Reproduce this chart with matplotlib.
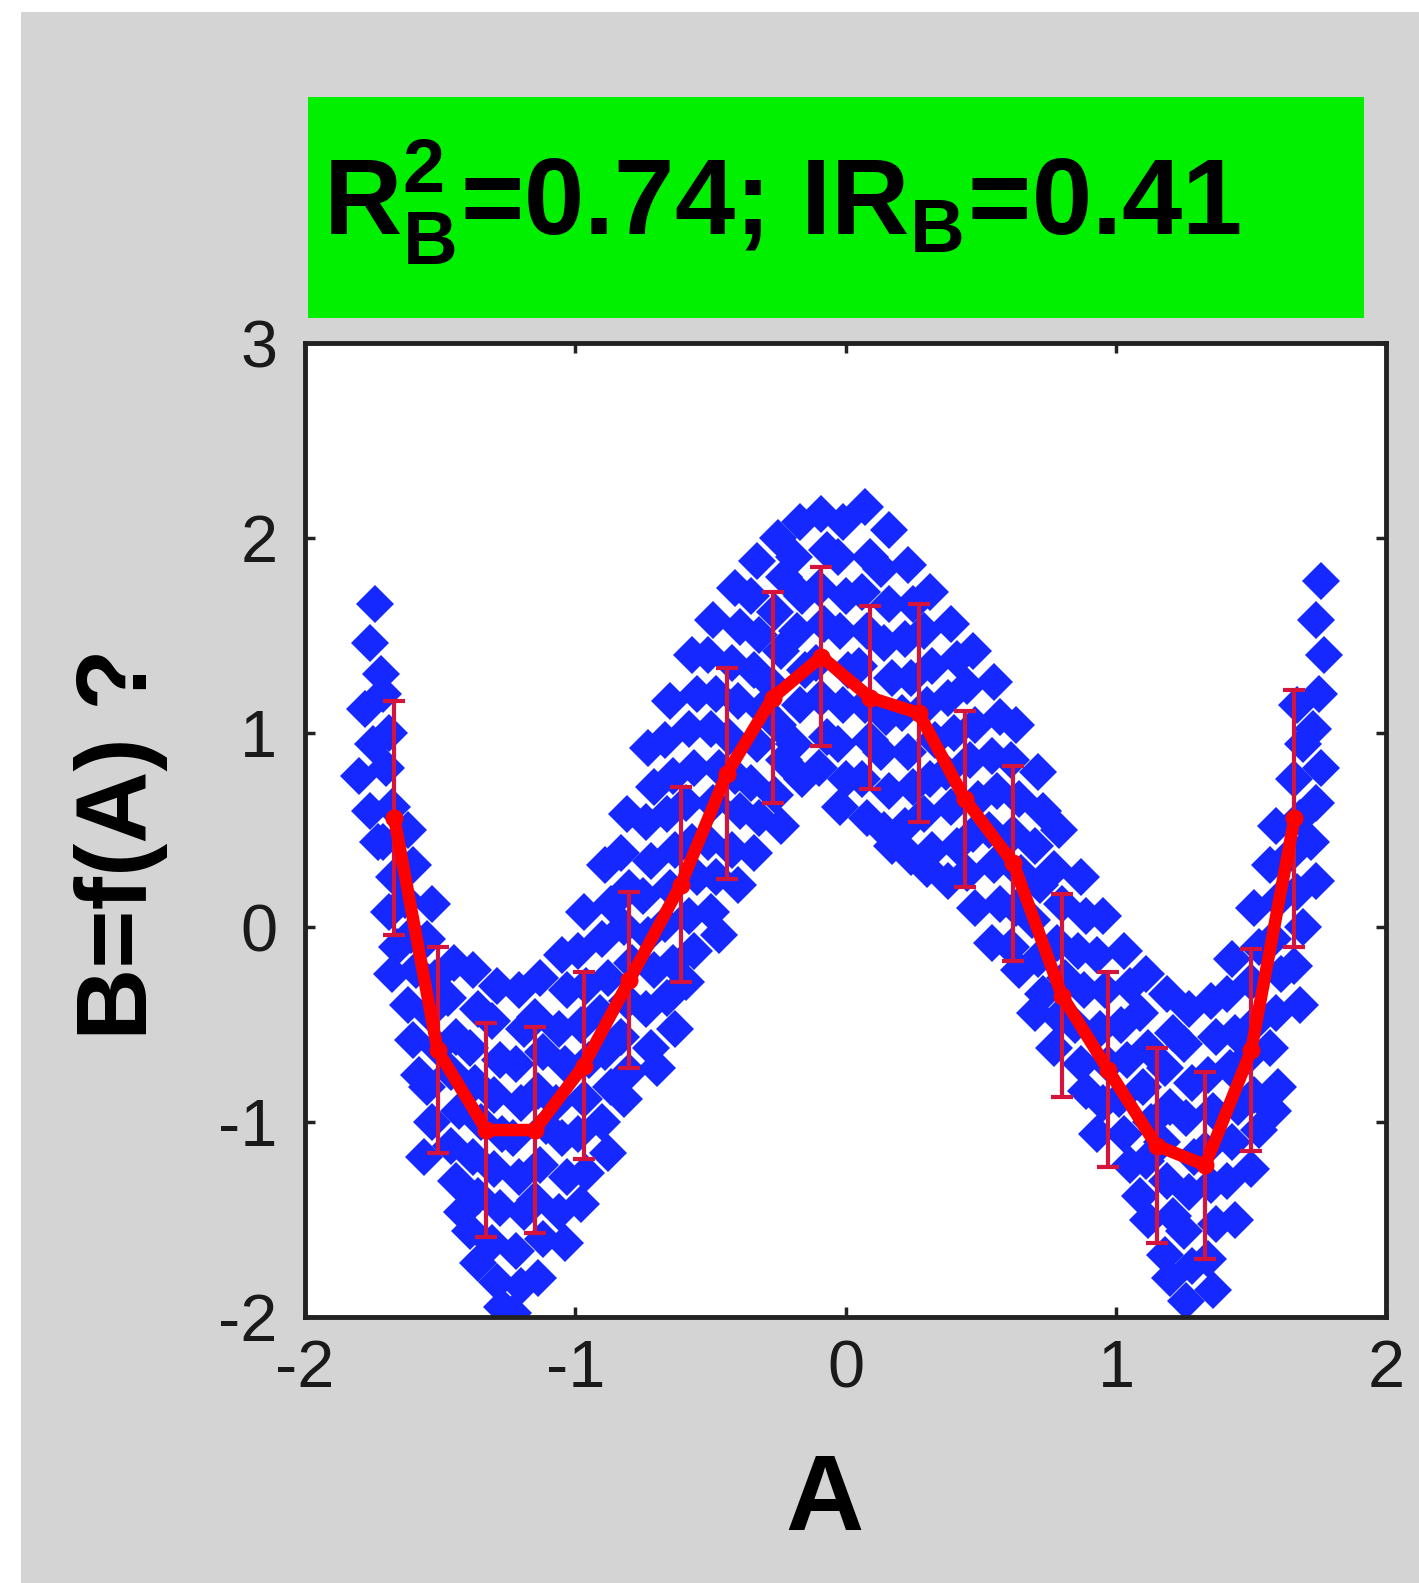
import matplotlib.pyplot as plt
from matplotlib.patches import Rectangle

# blue scatter
blue_a = [
    -1.74, -1.76, -1.72, -1.78, -1.75, -1.80, -1.76, -1.73,
    -1.71, -1.69, -1.70, -1.68, -1.71, -1.67, -1.69, -1.66, -1.68,
    -1.62, -1.60, -1.63, -1.61, -1.59, -1.62, -1.60, -1.58,
    -1.53, -1.55, -1.52, -1.54, -1.51, -1.55, -1.53, -1.56,
    -1.45, -1.47, -1.44, -1.46, -1.43, -1.46, -1.44, -1.42,
    -1.38, -1.36, -1.39, -1.37, -1.35, -1.38, -1.36, -1.39, -1.36,
    -1.29, -1.31, -1.28, -1.30, -1.27, -1.30, -1.28, -1.31, -1.29, -1.27,
    -1.21, -1.19, -1.22, -1.20, -1.23, -1.21, -1.19, -1.22, -1.20, -1.23,
    -1.13, -1.15, -1.12, -1.14, -1.11, -1.13, -1.15, -1.12, -1.14,
    -1.05, -1.03, -1.06, -1.04, -1.07, -1.05, -1.03, -1.06, -1.04,
    -0.97, -0.99, -0.96, -0.98, -0.95, -0.97, -0.99, -0.96, -0.98,
    -0.89, -0.87, -0.90, -0.88, -0.91, -0.89, -0.87, -0.90, -0.88,
    -0.81, -0.83, -0.80, -0.82, -0.79, -0.81, -0.83, -0.80, -0.82,
    -0.73, -0.71, -0.74, -0.72, -0.75, -0.73, -0.71, -0.74, -0.72, -0.70,
    -0.65, -0.67, -0.64, -0.66, -0.63, -0.65, -0.67, -0.64, -0.66, -0.63,
    -0.57, -0.55, -0.58, -0.56, -0.59, -0.57, -0.55, -0.58, -0.56, -0.59,
    -0.49, -0.51, -0.48, -0.50, -0.47, -0.49, -0.51, -0.48, -0.50, -0.47,
    -0.41, -0.39, -0.42, -0.40, -0.43, -0.41, -0.39, -0.42, -0.40,
    -0.33, -0.35, -0.32, -0.34, -0.31, -0.33, -0.35, -0.32, -0.34,
    -0.25, -0.23, -0.26, -0.24, -0.27, -0.25, -0.23, -0.26, -0.24,
    -0.17, -0.19, -0.16, -0.18, -0.15, -0.17, -0.19, -0.16,
    -0.09, -0.07, -0.10, -0.08, -0.11, -0.09, -0.07, -0.10,
    -0.01, -0.03, 0.00, -0.02, 0.01, -0.01, -0.03, 0.00, -0.02,
    0.07, 0.09, 0.06, 0.08, 0.05, 0.07, 0.09, 0.06, 0.08,
    0.16, 0.13, 0.16, 0.14, 0.17, 0.15, 0.13, 0.16, 0.14, 0.17,
    0.23, 0.25, 0.22, 0.24, 0.21, 0.23, 0.25, 0.22, 0.24,
    0.31, 0.29, 0.32, 0.30, 0.33, 0.31, 0.29, 0.32, 0.30,
    0.39, 0.41, 0.38, 0.40, 0.37, 0.39, 0.41, 0.38,
    0.47, 0.45, 0.48, 0.46, 0.49, 0.47, 0.45, 0.48,
    0.55, 0.57, 0.54, 0.56, 0.53, 0.55, 0.57, 0.54,
    0.63, 0.61, 0.64, 0.62, 0.65, 0.63, 0.61, 0.64,
    0.71, 0.73, 0.70, 0.72, 0.69, 0.71, 0.73, 0.70,
    0.79, 0.77, 0.80, 0.78, 0.81, 0.79, 0.77,
    0.87, 0.89, 0.86, 0.88, 0.85, 0.87, 0.89,
    0.95, 0.93, 0.96, 0.94, 0.97, 0.95, 0.93,
    1.03, 1.05, 1.02, 1.04, 1.01, 1.03, 1.05,
    1.11, 1.09, 1.12, 1.10, 1.13, 1.11, 1.09, 1.12,
    1.19, 1.21, 1.18, 1.20, 1.17, 1.19, 1.21, 1.18, 1.20,
    1.27, 1.25, 1.28, 1.26, 1.29, 1.27, 1.25, 1.28, 1.26,
    1.35, 1.37, 1.34, 1.36, 1.33, 1.35, 1.37, 1.34, 1.36,
    1.43, 1.41, 1.44, 1.42, 1.45, 1.43, 1.41, 1.44,
    1.51, 1.53, 1.50, 1.52, 1.49, 1.51, 1.53, 1.50,
    1.59, 1.57, 1.60, 1.58, 1.61, 1.59, 1.57, 1.60, 1.58,
    1.67, 1.69, 1.66, 1.68, 1.65, 1.67, 1.69, 1.66, 1.68,
    1.76, 1.74, 1.77, 1.75, 1.73, 1.76, 1.74, 1.72, 1.74,
]
blue_b = [
    1.66, 1.46, 1.30, 1.12, 0.94, 0.78, 0.60, 0.44,
    1.20, 1.00, 0.82, 0.62, 0.44, 0.26, 0.08, -0.10, -0.24,
    0.50, 0.32, 0.14, -0.04, -0.22, -0.40, -0.58, -0.76,
    0.12, -0.06, -0.26, -0.44, -0.62, -0.82, -1.00, -1.18,
    -0.18, -0.36, -0.56, -0.74, -0.94, -1.12, -1.30, -1.46,
    -0.22, -0.42, -0.62, -0.80, -1.00, -1.18, -1.38, -1.56, -1.72,
    -0.30, -0.48, -0.68, -0.86, -1.06, -1.24, -1.44, -1.62, -1.82, -1.95,
    -0.32, -0.52, -0.70, -0.90, -1.08, -1.28, -1.46, -1.66, -1.84, -1.98,
    -0.26, -0.46, -0.64, -0.84, -1.02, -1.22, -1.40, -1.60, -1.80,
    -0.14, -0.32, -0.52, -0.70, -0.90, -1.08, -1.28, -1.46, -1.62,
    0.08, -0.12, -0.30, -0.50, -0.68, -0.88, -1.06, -1.26, -1.42,
    0.32, 0.12, -0.06, -0.26, -0.44, -0.64, -0.82, -1.00, -1.16,
    0.58, 0.38, 0.20, 0.00, -0.18, -0.38, -0.56, -0.74, -0.88,
    0.92, 0.72, 0.54, 0.34, 0.16, -0.04, -0.22, -0.42, -0.62, -0.72,
    1.16, 0.96, 0.78, 0.58, 0.40, 0.20, 0.02, -0.18, -0.36, -0.52,
    1.40, 1.20, 1.02, 0.82, 0.64, 0.44, 0.26, 0.06, -0.12, -0.28,
    1.58, 1.40, 1.20, 1.02, 0.82, 0.64, 0.44, 0.26, 0.08, -0.04,
    1.74, 1.54, 1.36, 1.16, 0.98, 0.78, 0.60, 0.40, 0.22,
    1.88, 1.70, 1.50, 1.32, 1.12, 0.94, 0.74, 0.56, 0.38,
    2.00, 1.80, 1.62, 1.42, 1.24, 1.04, 0.86, 0.68, 0.52,
    2.08, 1.90, 1.70, 1.52, 1.32, 1.14, 0.94, 0.76,
    2.12, 1.94, 1.74, 1.56, 1.36, 1.18, 0.98, 0.82,
    2.08, 1.90, 1.70, 1.52, 1.32, 1.14, 0.94, 0.76, 0.62,
    2.16, 1.90, 1.72, 1.52, 1.34, 1.14, 0.96, 0.76, 0.56,
    2.04, 1.84, 1.66, 1.46, 1.28, 1.08, 0.90, 0.70, 0.50, 0.42,
    1.86, 1.66, 1.48, 1.28, 1.10, 0.90, 0.72, 0.52, 0.36,
    1.72, 1.52, 1.34, 1.14, 0.96, 0.76, 0.58, 0.40, 0.30,
    1.56, 1.38, 1.18, 1.00, 0.80, 0.62, 0.42, 0.24,
    1.42, 1.24, 1.04, 0.86, 0.66, 0.48, 0.28, 0.10,
    1.26, 1.08, 0.88, 0.70, 0.50, 0.32, 0.12, -0.08,
    1.04, 0.86, 0.66, 0.48, 0.28, 0.10, -0.10, -0.22,
    0.80, 0.60, 0.42, 0.22, 0.04, -0.16, -0.34, -0.44,
    0.50, 0.30, 0.12, -0.08, -0.26, -0.46, -0.62,
    0.26, 0.06, -0.12, -0.32, -0.50, -0.70, -0.84,
    0.06, -0.14, -0.32, -0.52, -0.70, -0.90, -1.06,
    -0.12, -0.30, -0.50, -0.68, -0.88, -1.06, -1.22,
    -0.24, -0.44, -0.62, -0.82, -1.00, -1.20, -1.38, -1.50,
    -0.34, -0.54, -0.72, -0.92, -1.10, -1.30, -1.48, -1.68, -1.80,
    -0.42, -0.60, -0.80, -0.98, -1.18, -1.36, -1.56, -1.74, -1.92,
    -0.38, -0.56, -0.76, -0.94, -1.14, -1.32, -1.52, -1.70, -1.86,
    -0.16, -0.34, -0.54, -0.72, -0.92, -1.10, -1.30, -1.50,
    0.10, -0.10, -0.28, -0.48, -0.66, -0.86, -1.04, -1.24,
    0.52, 0.32, 0.14, -0.06, -0.24, -0.44, -0.62, -0.82, -0.94,
    1.14, 0.94, 0.76, 0.56, 0.38, 0.18, 0.00, -0.20, -0.40,
    1.78, 1.58, 1.40, 1.20, 1.02, 0.82, 0.64, 0.44, 0.24,
]

# binned mean and spread (red line with error bars)
red_a = [-1.67, -1.51, -1.33, -1.15, -0.97, -0.80, -0.61, -0.44, -0.27, -0.09,
         0.09, 0.27, 0.44, 0.62, 0.80, 0.97, 1.15, 1.33, 1.50, 1.66]
red_b = [0.56, -0.63, -1.04, -1.04, -0.71, -0.27, 0.22, 0.79, 1.18, 1.39,
         1.18, 1.10, 0.66, 0.33, -0.35, -0.73, -1.12, -1.22, -0.63, 0.56]
red_err = [0.60, 0.53, 0.55, 0.53, 0.48, 0.45, 0.50, 0.54, 0.54, 0.46,
           0.47, 0.56, 0.45, 0.50, 0.52, 0.50, 0.50, 0.48, 0.52, 0.66]

x_ticks = [-2, -1, 0, 1, 2]
y_ticks = [-2, -1, 0, 1, 2, 3]
stats_text = r'R$_\mathbf{B}^\mathbf{2}$=0.74; IR$_\mathbf{B}$=0.41'

plt.rcParams['font.family'] = ['Liberation Sans', 'DejaVu Sans']
plt.rcParams['mathtext.fontset'] = 'custom'
plt.rcParams['mathtext.bf'] = 'Liberation Sans:bold'
plt.rcParams['mathtext.rm'] = 'Liberation Sans'

fig = plt.figure(figsize=(14.19, 15.83), dpi=100, facecolor='white')

# grey panel (thin white strip left and top like the original)
fig.patches.append(Rectangle((0.0148, 0), 1, 0.9924, transform=fig.transFigure,
                             facecolor='#d4d4d4', edgecolor='none', zorder=-10))
# green stats box
fig.patches.append(Rectangle((0.217, 0.799), 0.744, 0.140, transform=fig.transFigure,
                             facecolor='#00f000', edgecolor='none', zorder=-5))
fig.text(0.2276, 0.852, stats_text, fontsize=78, fontweight='bold',
         ha='left', va='baseline', color='black')

ax = fig.add_axes([0.215, 0.168, 0.762, 0.6153])
ax.set_zorder(1)
ax.set_facecolor('white')

ax.plot(blue_a, blue_b, linestyle='none', marker='D', markersize=19.5,
        color='#1428ff', markeredgewidth=0, zorder=2)
ax.errorbar(red_a, red_b, yerr=red_err, fmt='none', ecolor='#d4143c',
            elinewidth=3, capsize=8, capthick=3, zorder=3)
ax.plot(red_a, red_b, color='#ff0000', linewidth=9, marker='o',
        markersize=12, zorder=4)

ax.set_xlim(-2, 2)
ax.set_ylim(-2, 3)
ax.set_xticks(x_ticks)
ax.set_yticks(y_ticks)
ax.set_xticklabels([str(t) for t in x_ticks])
ax.set_yticklabels([str(t) for t in y_ticks])

ax.tick_params(direction='in', length=7, width=2.5, top=True, right=True,
               labelsize=48, colors='#222222', labelcolor='#1a1a1a')
ax.tick_params(axis='x', pad=16)
ax.tick_params(axis='y', pad=20)
for s in ax.spines.values():
    s.set_linewidth(3.5)
    s.set_color('#222222')

ax.set_xlabel('A', fontsize=78, fontweight='bold')
ax.xaxis.set_label_coords(0.48, -0.19)
ax.set_ylabel('B=f(A) ?', fontsize=72, fontweight='bold', va='center')
ax.yaxis.set_label_coords(-0.17, 0.485)
ax.xaxis.label.set_va('center')

fig.savefig('out.png', dpi=100, facecolor=fig.get_facecolor())
